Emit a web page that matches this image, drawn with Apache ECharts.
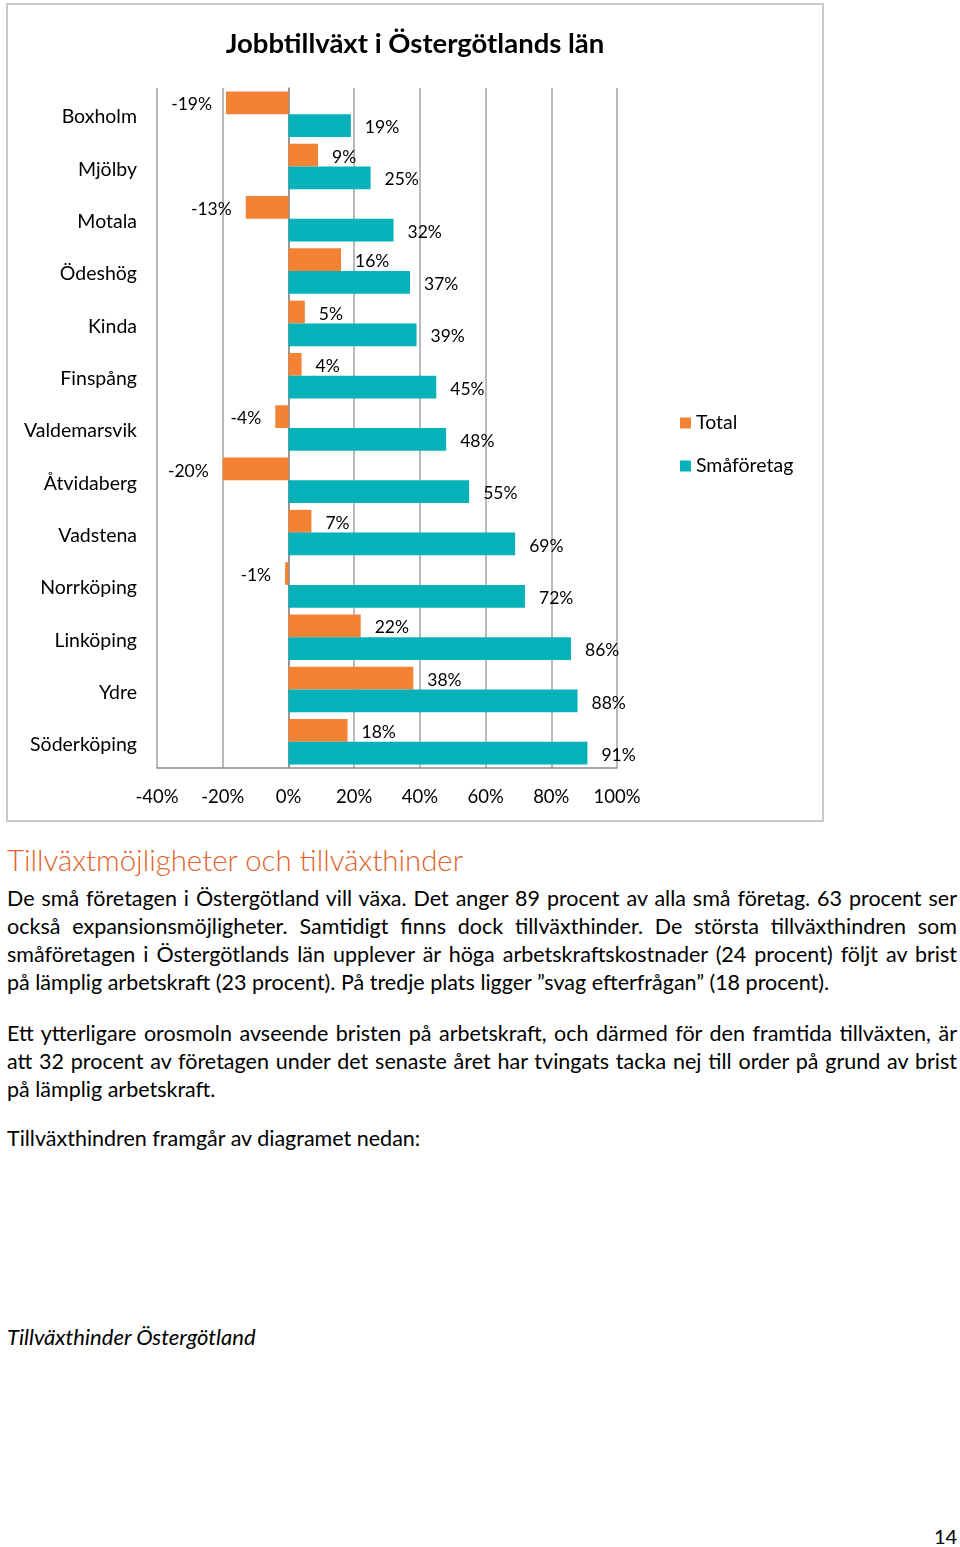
<!DOCTYPE html>
<html>
<head>
<meta charset="utf-8">
<script src="https://cdn.jsdelivr.net/npm/echarts@6/dist/echarts.min.js"></script>
<style>
  html, body { margin: 0; padding: 0; background: #fff; }
  body { width: 960px; height: 1547px; position: relative; overflow: hidden; font-family: Lato, "Open Sans", sans-serif; color: #000; }
  #box { position: absolute; left: 6px; top: 3px; width: 814px; height: 815px; border: 2px solid #c9c9c9; box-sizing: content-box; }
  #chart { position: absolute; left: 0; top: 0; width: 830px; height: 825px; }
  .h { position: absolute; left: 7px; top: 842px; font-size: 29.4px; font-weight: 300; color: #e2622a; white-space: nowrap; }
  .p { position: absolute; left: 7px; width: 950px; font-size: 21.5px; line-height: 28px; }
  .ln { text-align: justify; text-align-last: justify; white-space: nowrap; height: 28px; }
  .last { text-align-last: left; }
  .it { position: absolute; left: 7px; top: 1323px; font-size: 22px; font-style: italic; line-height: 28px; }
  .pg { position: absolute; left: 934px; top: 1524px; font-size: 20px; }
</style>
</head>
<body>
<div id="box"></div>
<div id="chart"></div>
<div class="h">Tillväxtmöjligheter och tillväxthinder</div>
<div class="p" style="top:884px">
  <div class="ln">De små företagen i Östergötland vill växa. Det anger 89 procent av alla små företag. 63 procent ser</div>
  <div class="ln">också expansionsmöjligheter. Samtidigt finns dock tillväxthinder. De största tillväxthindren som</div>
  <div class="ln">småföretagen i Östergötlands län upplever är höga arbetskraftskostnader (24 procent) följt av brist</div>
  <div class="ln last">på lämplig arbetskraft (23 procent). På tredje plats ligger ”svag efterfrågan” (18 procent).</div>
</div>
<div class="p" style="top:1019px">
  <div class="ln">Ett ytterligare orosmoln avseende bristen på arbetskraft, och därmed för den framtida tillväxten, är</div>
  <div class="ln">att 32 procent av företagen under det senaste året har tvingats tacka nej till order på grund av brist</div>
  <div class="ln last">på lämplig arbetskraft.</div>
</div>
<div class="p" style="top:1124px">
  <div class="ln last">Tillväxthindren framgår av diagramet nedan:</div>
</div>
<div class="it">Tillväxthinder Östergötland</div>
<div class="pg">14</div>
<script>
const categories = ['Boxholm','Mjölby','Motala','Ödeshög','Kinda','Finspång','Valdemarsvik','Åtvidaberg','Vadstena','Norrköping','Linköping','Ydre','Söderköping'];
const totalValues = [-19, 9, -13, 16, 5, 4, -4, -20, 7, -1, 22, 38, 18];
const smaValues = [19, 25, 32, 37, 39, 45, 48, 55, 69, 72, 86, 88, 91];
const seriesNames = ['Total', 'Småföretag'];
const axisMin = -40, axisMax = 100, axisStep = 20;

const FONT = 'Lato, "Open Sans", sans-serif';
function items(vals) {
  return vals.map(v => ({ value: v, label: { position: v < 0 ? 'left' : 'right' } }));
}
const lbl = { show: true, formatter: p => p.value + '%', fontSize: 17.5, color: '#000', distance: 14, offset: [0, 2], fontFamily: FONT };

const chart = echarts.init(document.getElementById('chart'));
chart.setOption({
  animation: false,
  textStyle: { fontFamily: FONT },
  title: { text: 'Jobbtillväxt i Östergötlands län', left: 'center', top: 25, textStyle: { fontSize: 27.5, fontWeight: 'bold', color: '#000', fontFamily: FONT } },
  legend: { orient: 'vertical', left: 675, top: 408, itemWidth: 11, itemHeight: 11, itemGap: 23, icon: 'rect', data: seriesNames, textStyle: { fontSize: 19.5, color: '#000', fontFamily: FONT } },
  grid: { left: 157, right: 213, top: 88, bottom: 57 },
  xAxis: {
    type: 'value', min: axisMin, max: axisMax, interval: axisStep,
    axisLine: { show: true, lineStyle: { color: '#8c8c8c', width: 1.5 } },
    axisTick: { show: false },
    axisLabel: { formatter: '{value}%', fontSize: 18.5, color: '#000', margin: 20, fontFamily: FONT },
    splitLine: { show: true, lineStyle: { color: '#a3a3a3', width: 1.5 } }
  },
  yAxis: {
    type: 'category', data: categories, inverse: true,
    axisLine: { show: true, lineStyle: { color: '#8c8c8c', width: 1.5 } },
    axisTick: { show: false },
    axisLabel: {
      margin: 20, formatter: v => '{a|' + v + '}',
      rich: { a: { fontSize: 19.5, color: '#000', fontFamily: FONT, padding: [6, 0, 0, 0] } }
    },
    splitLine: { show: false }
  },
  series: [
    { name: seriesNames[0], type: 'bar', data: items(totalValues), barGap: '0%', barCategoryGap: '13%', itemStyle: { color: '#f38235' }, label: lbl },
    { name: seriesNames[1], type: 'bar', data: items(smaValues), barGap: '0%', barCategoryGap: '13%', itemStyle: { color: '#05b2ba' }, label: lbl }
  ]
});
</script>
</body>
</html>
